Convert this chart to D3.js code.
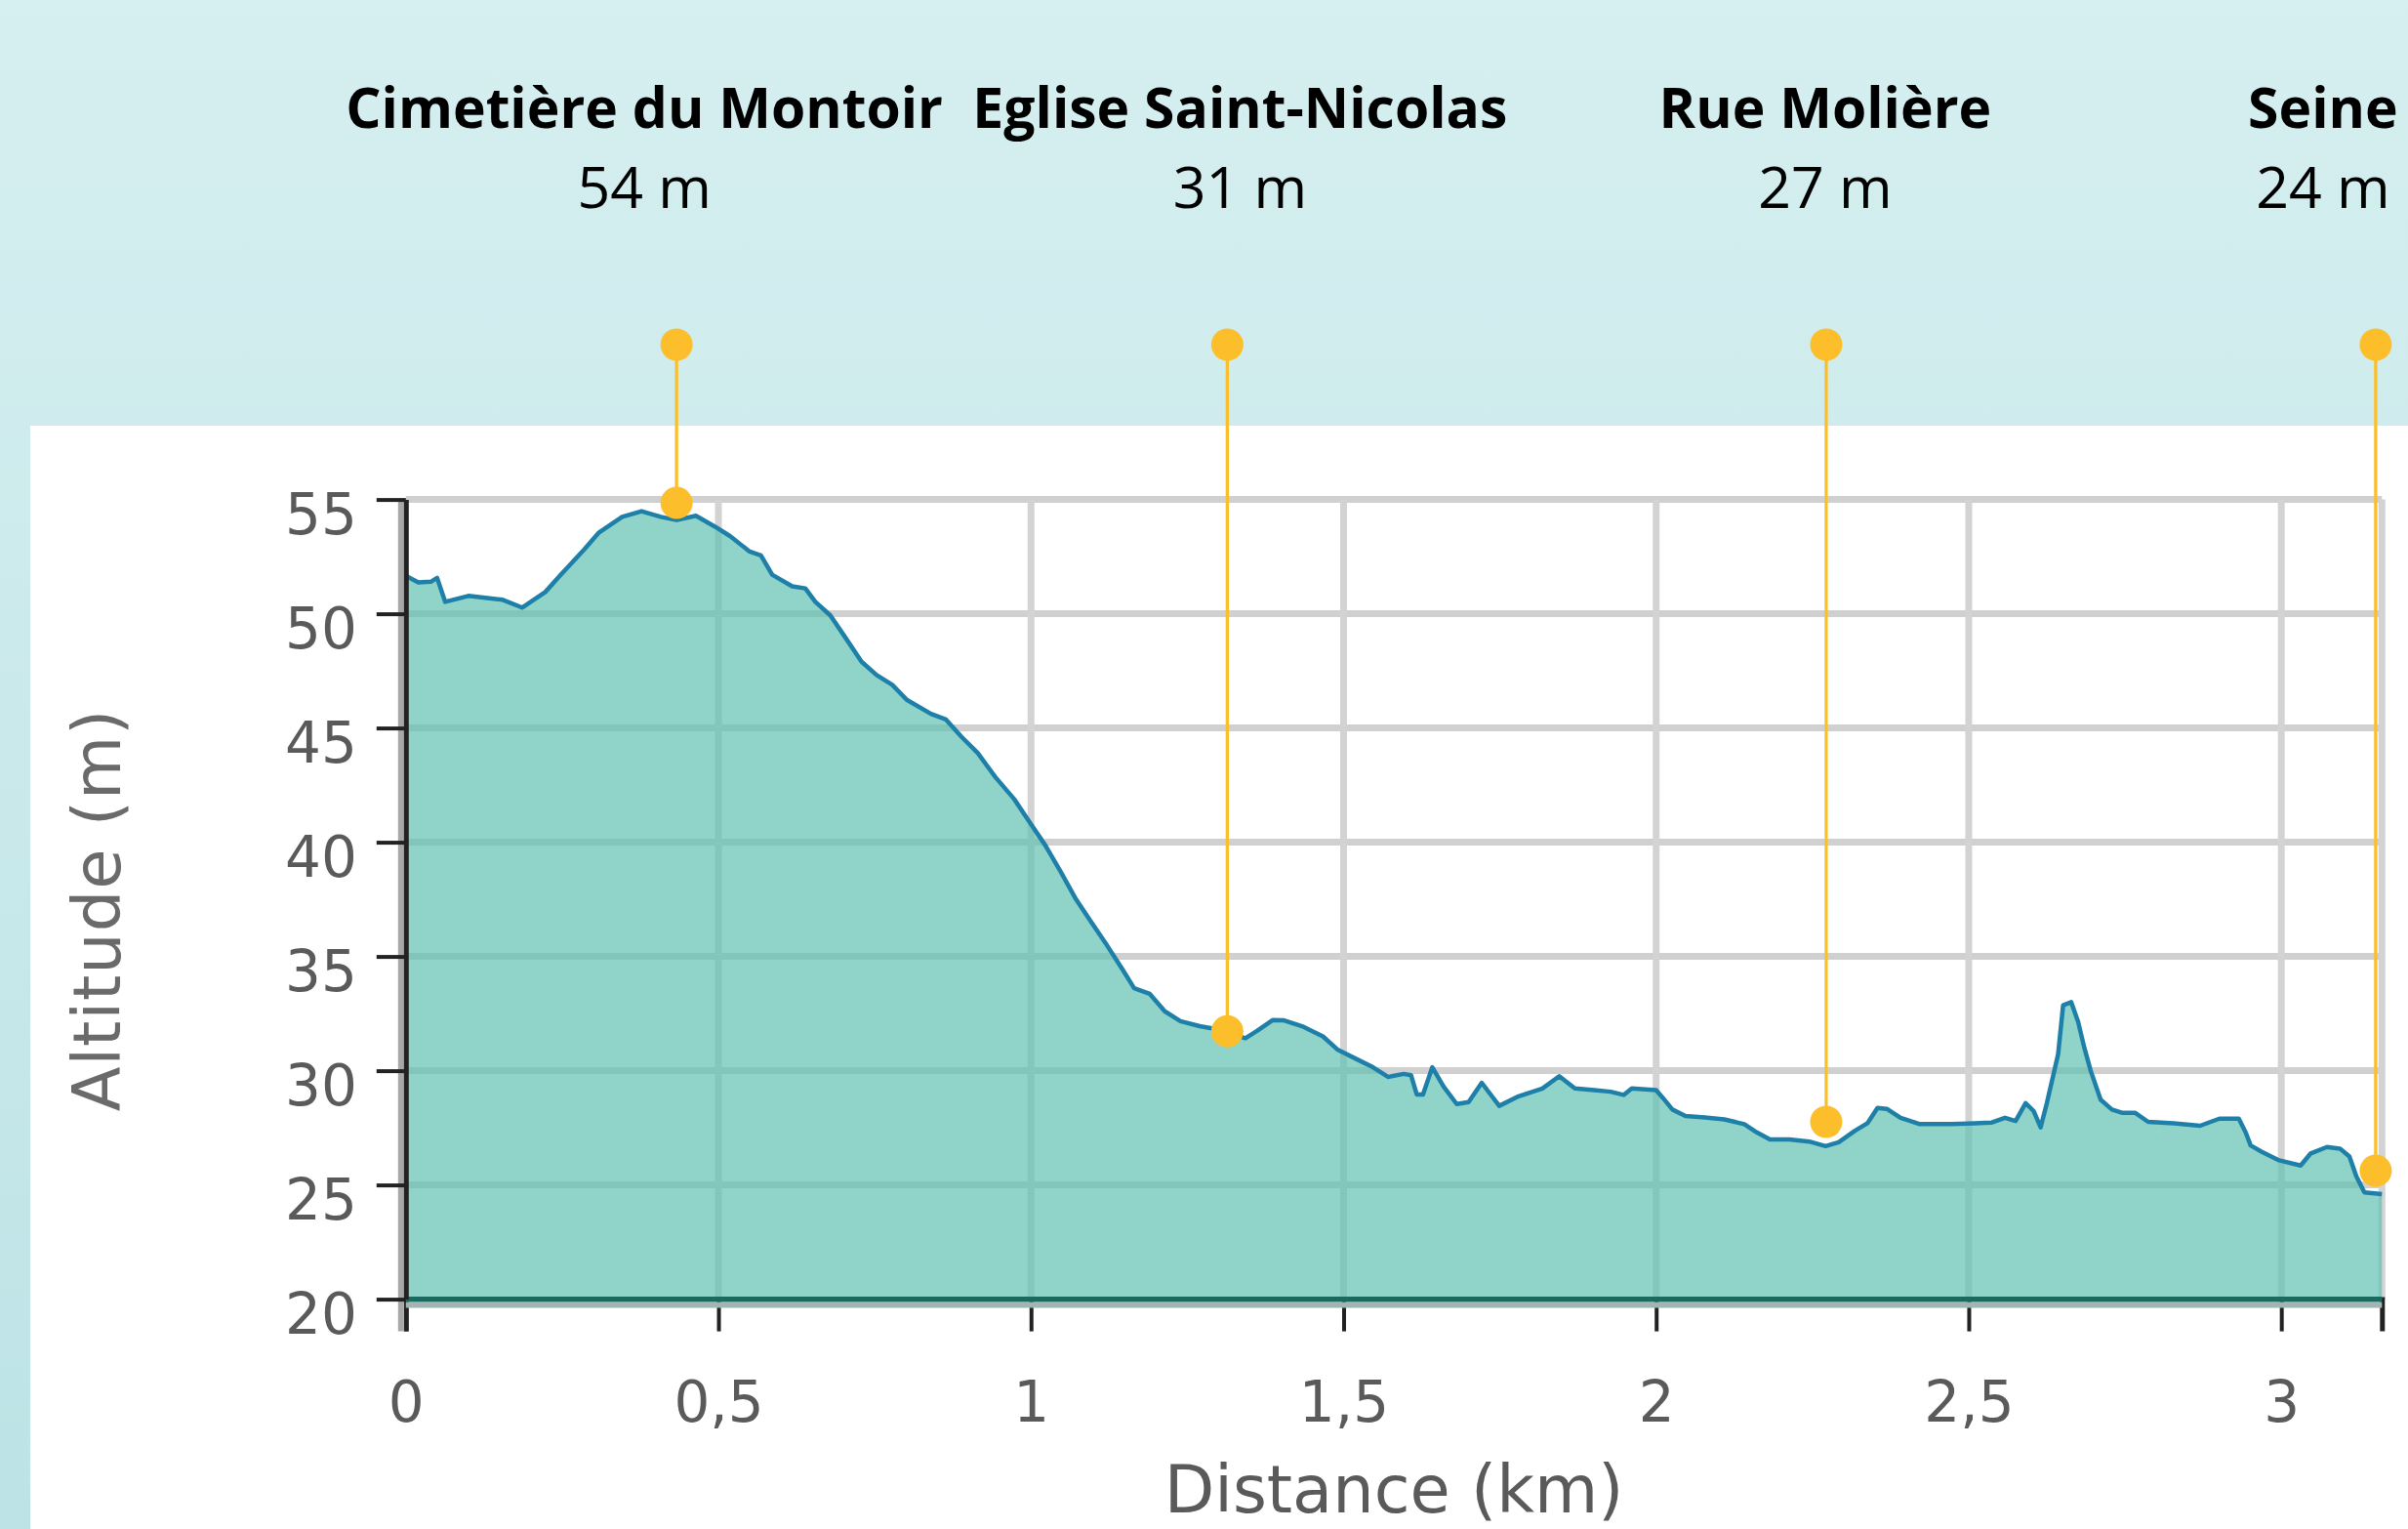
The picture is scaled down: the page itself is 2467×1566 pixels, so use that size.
<!DOCTYPE html>
<html>
<head>
<meta charset="utf-8">
<script src="https://cdn.jsdelivr.net/npm/d3@7"></script>
<style>
  body { margin: 0; }
  svg { display: block; }
</style>
</head>
<body>
<div id="profile"></div>
<script>
// elevation profile, distance in km and altitude in m
var distKm = [0.000, 0.020, 0.040, 0.050, 0.063, 0.100, 0.155, 0.186, 0.223, 0.248,
  0.285, 0.309, 0.346, 0.377, 0.408, 0.433, 0.464, 0.494, 0.519, 0.550,
  0.568, 0.586, 0.618, 0.639, 0.655, 0.679, 0.704, 0.729, 0.753, 0.778,
  0.802, 0.840, 0.864, 0.889, 0.915, 0.943, 0.973, 0.998, 1.023, 1.048,
  1.072, 1.097, 1.122, 1.146, 1.165, 1.190, 1.214, 1.239, 1.270, 1.300,
  1.313, 1.343, 1.362, 1.387, 1.405, 1.436, 1.467, 1.491, 1.522, 1.547,
  1.571, 1.596, 1.608, 1.617, 1.627, 1.642, 1.660, 1.681, 1.700, 1.721,
  1.749, 1.780, 1.818, 1.845, 1.870, 1.901, 1.927, 1.948, 1.961, 2.000,
  2.011, 2.026, 2.047, 2.078, 2.109, 2.141, 2.161, 2.182, 2.213, 2.245,
  2.271, 2.292, 2.318, 2.338, 2.354, 2.369, 2.391, 2.422, 2.474, 2.510,
  2.537, 2.558, 2.575, 2.591, 2.604, 2.615, 2.625, 2.643, 2.651, 2.664,
  2.675, 2.685, 2.695, 2.711, 2.729, 2.745, 2.766, 2.787, 2.828, 2.870,
  2.901, 2.932, 2.943, 2.951, 2.969, 2.995, 3.031, 3.047, 3.073, 3.094,
  3.109, 3.120, 3.133, 3.161];
var altM = [51.66, 51.37, 51.40, 51.57, 50.52, 50.78, 50.61, 50.27, 50.95, 51.71,
  52.80, 53.56, 54.24, 54.49, 54.24, 54.10, 54.29, 53.82, 53.39, 52.72,
  52.55, 51.71, 51.20, 51.11, 50.52, 49.93, 48.92, 47.90, 47.32, 46.89,
  46.22, 45.62, 45.37, 44.61, 43.90, 42.85, 41.89, 40.87, 39.86, 38.68,
  37.50, 36.48, 35.47, 34.45, 33.61, 33.36, 32.60, 32.17, 31.95, 31.80,
  31.67, 31.42, 31.75, 32.22, 32.20, 31.92, 31.50, 30.91, 30.49, 30.15,
  29.73, 29.86, 29.80, 28.96, 28.96, 30.15, 29.30, 28.54, 28.63, 29.47,
  28.46, 28.88, 29.22, 29.76, 29.22, 29.15, 29.08, 28.94, 29.22, 29.15,
  28.80, 28.30, 28.02, 27.95, 27.87, 27.66, 27.30, 26.99, 26.99, 26.90,
  26.70, 26.87, 27.37, 27.70, 28.37, 28.33, 27.94, 27.66, 27.66, 27.70,
  27.73, 27.94, 27.80, 28.58, 28.23, 27.52, 28.58, 30.72, 32.86, 33.00,
  32.14, 31.00, 30.01, 28.73, 28.30, 28.16, 28.16, 27.76, 27.70, 27.59,
  27.90, 27.90, 27.30, 26.73, 26.45, 26.09, 25.85, 26.38, 26.66, 26.59,
  26.24, 25.38, 24.67, 24.60];

// points of interest
var poiNames = ['Cimetière du Montoir', 'Eglise Saint-Nicolas', 'Rue Molière', 'Seine'];
var poiAlt = [54, 31, 27, 24];
var poiKm = [0.433, 1.314, 2.272, 3.151];
var poiMarkAlt = [54.85, 31.72, 27.76, 25.62];

var xTicks = [0, 0.5, 1, 1.5, 2, 2.5, 3];
var yTicks = [20, 25, 30, 35, 40, 45, 50, 55];
var xTitle = 'Distance (km)';
var yTitle = 'Altitude (m)';

// layout
var W = 2467, H = 1566;
var plot = { left: 415.8, right: 2440.3, top: 511.6, bottom: 1330.6 };
var labelShift = [-33, 13, -1, -54];
var pinTop = 353;
var axisFont = '"DejaVu Sans", Verdana, sans-serif';

var frFormat = d3.formatLocale({ decimal: ',', thousands: ' ', grouping: [3], currency: ['', ' €'] }).format('~g');

var svg = d3.select('#profile').append('svg')
    .attr('width', W)
    .attr('height', H);

var grad = svg.append('defs').append('linearGradient')
    .attr('id', 'bg')
    .attr('x1', 0).attr('y1', 0).attr('x2', 0).attr('y2', 1);
grad.append('stop').attr('offset', '0%').attr('stop-color', '#d6eff0');
grad.append('stop').attr('offset', '100%').attr('stop-color', '#bde3e6');

svg.append('rect')
    .attr('width', W).attr('height', H)
    .attr('fill', 'url(#bg)');
svg.append('rect')
    .attr('x', 31).attr('y', 436)
    .attr('width', W - 31).attr('height', H - 436)
    .attr('fill', '#ffffff');

var x = d3.scaleLinear()
    .domain([0, d3.max(distKm)])
    .range([plot.left, plot.right]);
var y = d3.scaleLinear()
    .domain([20, 55])
    .range([plot.bottom, plot.top]);

// grid
var grid = svg.append('g').attr('class', 'grid');
grid.selectAll('.hgrid')
    .data(yTicks.slice(1))
    .enter().append('line')
    .attr('x1', plot.left).attr('x2', plot.right)
    .attr('y1', function (d) { return y(d); })
    .attr('y2', function (d) { return y(d); })
    .attr('stroke', '#d0d0d0')
    .attr('stroke-width', 7);
grid.selectAll('.vgrid')
    .data(xTicks.slice(1).concat([x.domain()[1]]))
    .enter().append('line')
    .attr('x1', function (d) { return x(d); })
    .attr('x2', function (d) { return x(d); })
    .attr('y1', plot.top).attr('y2', plot.bottom)
    .attr('stroke', '#d3d3d3')
    .attr('stroke-width', 7);

// x axis
var xAxis = d3.axisBottom(x)
    .tickValues(xTicks)
    .tickSize(33)
    .tickSizeOuter(33)
    .tickFormat(frFormat);
var gx = svg.append('g')
    .attr('transform', 'translate(0,' + plot.bottom + ')')
    .call(xAxis);

// profile
var profile = distKm.map(function (d, i) { return { km: d, alt: altM[i] }; });
var area = d3.area()
    .x(function (d) { return x(d.km); })
    .y0(y(20))
    .y1(function (d) { return y(d.alt); });
var line = d3.line()
    .x(function (d) { return x(d.km); })
    .y(function (d) { return y(d.alt); });

svg.append('path')
    .datum(profile)
    .attr('d', area)
    .attr('fill', '#5fc0b2')
    .attr('fill-opacity', 0.7);
svg.append('line')
    .attr('x1', plot.left).attr('x2', plot.right)
    .attr('y1', plot.bottom + 6).attr('y2', plot.bottom + 6)
    .attr('stroke', '#a3b5b2')
    .attr('stroke-width', 6);
svg.append('line')
    .attr('x1', plot.left).attr('x2', plot.right)
    .attr('y1', plot.bottom).attr('y2', plot.bottom)
    .attr('stroke', '#1a6a5f')
    .attr('stroke-width', 5);
svg.append('path')
    .datum(profile)
    .attr('d', line)
    .attr('fill', 'none')
    .attr('stroke', '#1e80a8')
    .attr('stroke-width', 4.5)
    .attr('stroke-linejoin', 'round');

// y axis
var yAxis = d3.axisLeft(y)
    .tickValues(yTicks)
    .tickSize(30)
    .tickSizeOuter(0)
    .tickPadding(20);
svg.append('line')
    .attr('x1', plot.left - 5).attr('x2', plot.left - 5)
    .attr('y1', plot.top).attr('y2', plot.bottom + 33)
    .attr('stroke', '#a8a8a8')
    .attr('stroke-width', 6);
var gy = svg.append('g')
    .attr('transform', 'translate(' + plot.left + ',0)')
    .call(yAxis);

[gx, gy].forEach(function (g) {
    g.select('.domain').attr('stroke', '#222').attr('stroke-width', 5);
    g.selectAll('.tick line').attr('stroke', '#222').attr('stroke-width', 4);
    g.selectAll('.tick text')
        .attr('fill', '#5a5a5a')
        .style('font-family', axisFont)
        .style('font-size', '58px');
});
gx.selectAll('.tick text').attr('y', 125).attr('dy', 0);
gy.selectAll('.tick text').attr('y', 35).attr('dy', 0);

svg.append('text')
    .attr('x', (plot.left + plot.right) / 2)
    .attr('y', 1549)
    .attr('text-anchor', 'middle')
    .attr('fill', '#5a5a5a')
    .style('font-family', axisFont)
    .style('font-size', '67px')
    .text(xTitle);
svg.append('text')
    .attr('transform', 'translate(123,932) rotate(-90)')
    .attr('text-anchor', 'middle')
    .attr('fill', '#6a6a6a')
    .style('font-family', axisFont)
    .style('font-size', '67px')
    .style('letter-spacing', '1px')
    .text(yTitle);

// pins
var pois = poiNames.map(function (n, i) {
    return { name: n, alt: poiAlt[i], km: poiKm[i], mark: poiMarkAlt[i], shift: labelShift[i] };
});
var pin = svg.selectAll('.pin')
    .data(pois)
    .enter().append('g')
    .attr('class', 'pin');
pin.append('line')
    .attr('x1', function (d) { return x(d.km); })
    .attr('x2', function (d) { return x(d.km); })
    .attr('y1', pinTop)
    .attr('y2', function (d) { return y(d.mark); })
    .attr('stroke', '#fbbf2c')
    .attr('stroke-width', 3.3);
pin.append('circle')
    .attr('cx', function (d) { return x(d.km); })
    .attr('cy', pinTop)
    .attr('r', 16.5)
    .attr('fill', '#fdbe2b');
pin.append('circle')
    .attr('cx', function (d) { return x(d.km); })
    .attr('cy', function (d) { return y(d.mark); })
    .attr('r', 16.5)
    .attr('fill', '#fdbe2b');
pin.append('text')
    .attr('x', function (d) { return x(d.km) + d.shift; })
    .attr('y', 131)
    .attr('text-anchor', 'middle')
    .style('font-family', '"Open Sans", sans-serif')
    .style('font-weight', 'bold')
    .style('font-size', '57px')
    .attr('fill', '#000')
    .text(function (d) { return d.name; });
pin.append('text')
    .attr('x', function (d) { return x(d.km) + d.shift; })
    .attr('y', 213)
    .attr('text-anchor', 'middle')
    .style('font-family', '"Open Sans", sans-serif')
    .style('font-size', '59px')
    .attr('fill', '#000')
    .text(function (d) { return d.alt + ' m'; });
</script>
</body>
</html>
